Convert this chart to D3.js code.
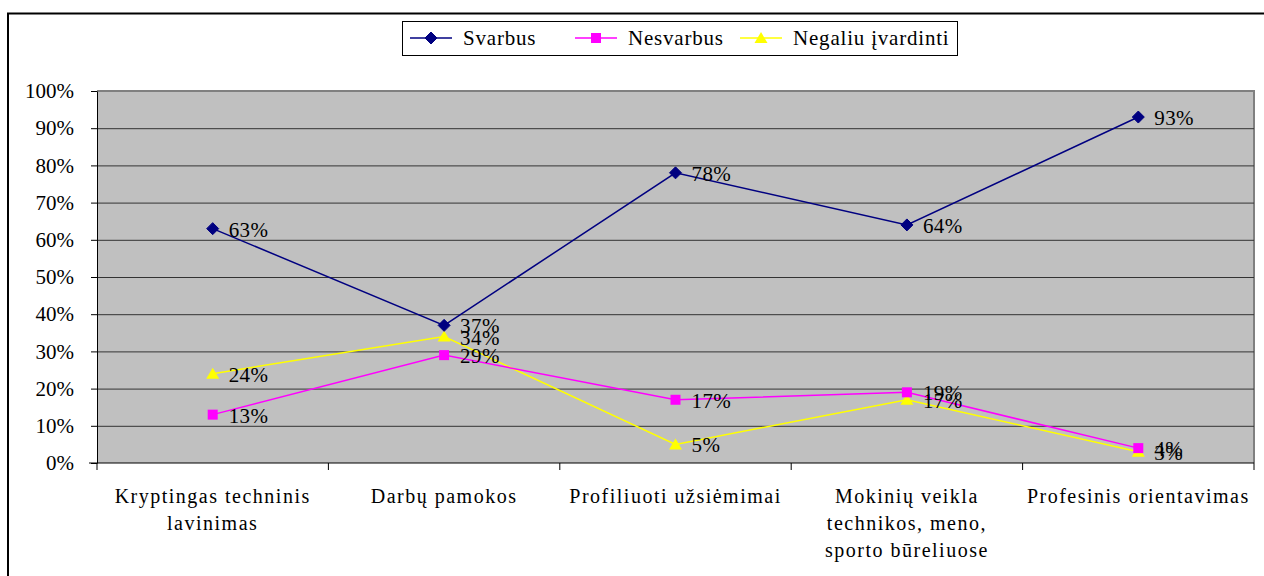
<!DOCTYPE html>
<html>
<head>
<meta charset="utf-8">
<script src="https://cdn.jsdelivr.net/npm/d3@7/dist/d3.min.js"></script>
<style>
body { margin: 0; background: #fff; }
svg text { font-family: "Liberation Serif", "Times New Roman", "Liberation Sans", sans-serif; fill: #000; }
</style>
</head>
<body>
<svg></svg>
<script>
// data
const categories = [
  ["Kryptingas techninis", "lavinimas"],
  ["Darbų pamokos"],
  ["Profiliuoti užsiėmimai"],
  ["Mokinių veikla", "technikos, meno,", "sporto būreliuose"],
  ["Profesinis orientavimas"]
];
const svarbus = [63, 37, 78, 64, 93];
const nesvarbus = [13, 29, 17, 19, 4];
const negaliu = [24, 34, 5, 17, 3];
const yTicks = [0, 10, 20, 30, 40, 50, 60, 70, 80, 90, 100];

const series = [
  { name: "Svarbus", values: svarbus, color: "#000080", marker: "diamond" },
  { name: "Nesvarbus", values: nesvarbus, color: "#FF00FF", marker: "square" },
  { name: "Negaliu įvardinti", values: negaliu, color: "#FFFF00", marker: "triangle" }
];

const WIDTH = 1264, HEIGHT = 576;
const M = { left: 97, right: 10, top: 91, bottom: 113 };

const svg = d3.select("svg").attr("width", WIDTH).attr("height", HEIGHT);

// outer frame
svg.append("path")
  .attr("d", `M8,${HEIGHT + 5}V13.5H${WIDTH + 5}`)
  .attr("fill", "none").attr("stroke", "#000").attr("stroke-width", 2);

const keys = d3.range(categories.length);
const x = d3.scaleBand().domain(keys).range([M.left, WIDTH - M.right]);
const y = d3.scaleLinear().domain([0, 100]).range([HEIGHT - M.bottom, M.top]);

// plot background
svg.append("rect")
  .attr("x", M.left).attr("y", M.top)
  .attr("width", x.range()[1] - M.left).attr("height", y(0) - M.top)
  .attr("fill", "#C0C0C0");
svg.append("path")
  .attr("d", `M${M.left},${M.top}H${x.range()[1]}V${y(0)}`)
  .attr("fill", "none").attr("stroke", "#808080").attr("stroke-width", 2);

// gridlines
svg.append("g").selectAll("line")
  .data(yTicks.filter(d => d > 0 && d < 100))
  .join("line")
  .attr("x1", M.left).attr("x2", x.range()[1])
  .attr("y1", d => y(d) + 0.5).attr("y2", d => y(d) + 0.5)
  .attr("stroke", "#333").attr("stroke-width", 1);

// y axis
const yAxis = svg.append("g")
  .attr("transform", `translate(${M.left},0)`)
  .call(d3.axisLeft(y).tickValues(yTicks).tickFormat(d => d + "%").tickSize(6).tickSizeOuter(0).tickPadding(17));
yAxis.attr("font-family", null);
yAxis.selectAll("text").attr("font-size", 21);
yAxis.select(".domain").attr("stroke", "#000");

// x axis
const xAxisY = y(0);
const xg = svg.append("g");
xg.append("line")
  .attr("x1", M.left - 8).attr("x2", x.range()[1])
  .attr("y1", xAxisY).attr("y2", xAxisY).attr("stroke", "#000");
xg.selectAll(".xtick")
  .data(keys.concat([categories.length]))
  .join("line")
  .attr("x1", d => M.left + d * x.step()).attr("x2", d => M.left + d * x.step())
  .attr("y1", xAxisY).attr("y2", xAxisY + 7)
  .attr("stroke", "#000");
xg.selectAll(".xl")
  .data(categories)
  .join("text")
  .attr("class", "xl")
  .attr("text-anchor", "middle")
  .attr("font-size", 20)
  .attr("letter-spacing", 1.5)
  .attr("x", (d, i) => x(i) + x.bandwidth() / 2)
  .each(function(lines) {
    d3.select(this).selectAll("tspan").data(lines).join("tspan")
      .attr("x", d3.select(this).attr("x"))
      .attr("y", (l, j) => xAxisY + 40 + j * 27)
      .text(l => l);
  });

const line = d3.line().x((d, i) => x(i) + x.bandwidth() / 2).y(d => y(d));

function marker(g, type, color) {
  if (type === "diamond") g.append("path").attr("d", "M0,-6L6,0L0,6L-6,0Z").attr("fill", color).attr("stroke", color);
  if (type === "square") g.append("rect").attr("x", -5).attr("y", -5).attr("width", 10).attr("height", 10).attr("fill", color);
  if (type === "triangle") g.append("path").attr("d", "M0,-6L6.5,5L-6.5,5Z").attr("fill", color);
}

// lines (draw in reverse so Svarbus is on top)
series.slice().reverse().forEach(s => {
  svg.append("path").datum(s.values)
    .attr("d", line).attr("fill", "none").attr("stroke", s.color).attr("stroke-width", 1.5);
  s.values.forEach((v, i) => {
    const g = svg.append("g").attr("transform", `translate(${x(i) + x.bandwidth() / 2},${y(v)})`);
    marker(g, s.marker, s.color);
  });
});

// data labels
series.forEach(s => {
  svg.append("g").selectAll("text").data(s.values).join("text")
    .attr("x", (d, i) => x(i) + x.bandwidth() / 2 + 16)
    .attr("y", d => y(d) + 8)
    .attr("font-size", 21)
    .attr("letter-spacing", 0.4)
    .text(d => d + "%");
});

// legend
const lg = svg.append("g");
lg.append("rect").attr("x", 402.5).attr("y", 21.5).attr("width", 555).attr("height", 34)
  .attr("fill", "#fff").attr("stroke", "#000");
const legendX = [410, 575, 740];
series.forEach((s, i) => {
  const g = lg.append("g").attr("transform", `translate(${legendX[i]},38)`);
  g.append("line").attr("x1", 0).attr("x2", 42).attr("stroke", s.color).attr("stroke-width", 1.5);
  const m = g.append("g").attr("transform", "translate(21,0)");
  marker(m, s.marker, s.color);
  g.append("text").attr("x", 53).attr("y", 7).attr("font-size", 21).attr("letter-spacing", 0.8).text(s.name);
});
</script>
</body>
</html>
